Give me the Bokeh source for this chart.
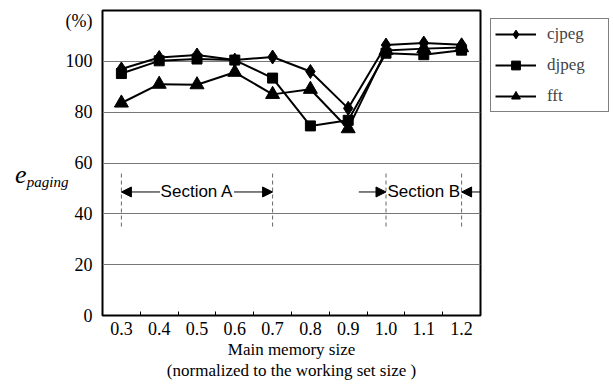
from bokeh.plotting import figure
from bokeh.layouts import row
from bokeh.models import (FixedTicker, Legend, LegendItem, Label, Arrow, NormalHead,
                          Range1d, LinearAxis, Title)
from bokeh.embed import file_html
from bokeh.resources import INLINE

# ---- data ----
sizes = ["0.3", "0.4", "0.5", "0.6", "0.7", "0.8", "0.9", "1.0", "1.1", "1.2"]
cjpeg = [97.0, 101.5, 102.5, 100.5, 101.7, 96.0, 81.5, 106.4, 107.2, 106.5]
djpeg = [95.2, 100.2, 100.9, 100.5, 93.4, 74.6, 76.8, 103.2, 102.6, 104.4]
fft = [83.6, 91.0, 90.8, 95.7, 87.0, 89.0, 73.5, 104.3, 105.0, 105.4]
series_names = ["cjpeg", "djpeg", "fft"]
y_ticks = [0, 20, 40, 60, 80, 100]
unit_label = "(%)"
y_title_main = "e"
y_title_sub = "paging"
x_title = "Main memory size"
x_subtitle = "(normalized to the working set size )"
section_names = ["Section A", "Section B"]
section_from = ["0.3", "1.0"]
section_to = ["0.7", "1.2"]

idx = list(range(len(sizes)))
pos = {s: i for i, s in enumerate(sizes)}
series_vals = [cjpeg, djpeg, fft]
markers = [("diamond", 14), ("square", 10), ("triangle", 14)]

SERIF = "Liberation Serif"
SANS = "Liberation Sans"

TOTAL_W, TOTAL_H = 613, 392
MAIN_W = 482
LEG_W = TOTAL_W - MAIN_W

p = figure(width=MAIN_W, height=TOTAL_H, x_range=Range1d(-0.5, len(sizes) - 0.5),
           y_range=Range1d(0, 120), output_backend="svg", toolbar_location=None,
           min_border_left=102, min_border_right=2, min_border_top=10,
           min_border_bottom=77)
p.background_fill_color = "white"
p.border_fill_color = "white"
p.outline_line_color = "black"
p.outline_line_width = 2

# x axis
xa = p.xaxis[0]
xa.ticker = FixedTicker(ticks=idx, minor_ticks=[i + 0.5 for i in idx[:-1]])
xa.major_label_overrides = {i: s for i, s in enumerate(sizes)}
xa.axis_line_color = None
xa.major_tick_in = 0
xa.major_tick_out = 0
xa.minor_tick_in = 4
xa.minor_tick_out = 0
xa.minor_tick_line_color = "black"
xa.major_label_text_font = SERIF
xa.major_label_text_font_size = "18px"
xa.major_label_text_color = "black"
xa.major_label_standoff = 6

for t in [x_title, x_subtitle]:
    p.add_layout(Title(text=t, align="center", text_font=SERIF,
                       text_font_style="normal", text_font_size="17px", text_color="black",
                       standoff=0, offset=20), "below")

# y axis
ya = p.yaxis[0]
unit_pos = 116
ya.ticker = FixedTicker(ticks=y_ticks + [unit_pos])
ya.major_label_overrides = {unit_pos: unit_label}
ya.axis_line_color = None
ya.major_tick_in = 0
ya.major_tick_out = 0
ya.minor_tick_line_color = None
ya.major_label_text_font = SERIF
ya.major_label_text_font_size = "18px"
ya.major_label_text_color = "black"
ya.major_label_standoff = 10
ya.axis_label = "\n\n" + y_title_sub
ya.axis_label_orientation = "horizontal"
ya.axis_label_text_font = SERIF
ya.axis_label_text_font_style = "italic"
ya.axis_label_text_font_size = "15px"
ya.axis_label_text_color = "black"
ya.axis_label_standoff = -6

ya2 = LinearAxis(ticker=FixedTicker(ticks=[]), axis_line_color=None,
                 major_tick_in=0, major_tick_out=0, minor_tick_in=0, minor_tick_out=0,
                 major_label_standoff=0, axis_label_standoff=-3,
                 axis_label="\n" + y_title_main, axis_label_orientation="horizontal",
                 axis_label_text_font=SERIF, axis_label_text_font_style="italic",
                 axis_label_text_font_size="26px", axis_label_text_line_height=0.8,
                 axis_label_text_color="black")
p.add_layout(ya2, "left")

p.xgrid.grid_line_color = None
p.ygrid.grid_line_color = "#777777"
p.ygrid.grid_line_width = 1
p.ygrid.ticker = FixedTicker(ticks=y_ticks)

# series
for name, vals, (mk, sz) in zip(series_names, series_vals, markers):
    p.line(idx, vals, line_color="black", line_width=2)
    p.scatter(idx, vals, marker=mk, size=sz, fill_color="black", line_color="black")

# sections
sec_y = 48.6
sec_lo, sec_hi = 35, 56
half_text = 0.98
xs = [pos[s] for s in section_from] + [pos[s] for s in section_to]
p.segment(x0=xs, y0=[sec_lo] * 4, x1=xs, y1=[sec_hi] * 4, line_color="#666666",
          line_width=1, line_dash="4 3")

a0, a1 = pos[section_from[0]], pos[section_to[0]]
b0, b1 = pos[section_from[1]], pos[section_to[1]]
ca = (a0 + a1) / 2
cb = (b0 + b1) / 2
for nm, c in zip(section_names, [ca, cb]):
    p.add_layout(Label(x=c, y=sec_y, text=nm, text_align="center", text_baseline="middle",
                       text_font=SANS, text_font_size="17px", text_color="black"))

def head():
    return NormalHead(size=10, fill_color="black", line_color="black", line_width=1)

arrows = [(ca - half_text, a0), (ca + half_text, a1), (b0 - 0.72, b0), (len(sizes) - 0.5, b1)]
for xs0, xe in arrows:
    p.add_layout(Arrow(end=head(), x_start=xs0, y_start=sec_y, x_end=xe, y_end=sec_y,
                       line_color="black", line_width=1))

# ---- legend panel (separate figure; its series sit outside its visible range) ----
lg = figure(width=LEG_W, height=TOTAL_H, x_range=Range1d(-20, -10), y_range=Range1d(-20, -10),
            x_axis_type=None, y_axis_type=None, output_backend="svg",
            toolbar_location=None, min_border=0)
lg.outline_line_color = None
lg.background_fill_color = "white"
lg.border_fill_color = "white"
items = []
for name, vals, (mk, sz) in zip(series_names, series_vals, markers):
    rl = lg.line(idx, vals, line_color="black", line_width=2)
    rm = lg.scatter(idx, vals, marker=mk, size=sz, fill_color="black", line_color="black")
    items.append(LegendItem(label=name, renderers=[rl, rm]))

legend = Legend(items=items, location="top_left", border_line_color="black",
                border_line_width=1.5, padding=4, spacing=9, glyph_width=41,
                glyph_height=22, label_height=22, label_width=57, label_standoff=11,
                label_text_font=SERIF, label_text_font_size="17px", margin=8,
                background_fill_color="white", background_fill_alpha=1)
lg.add_layout(legend)

layout = row(p, lg, spacing=0)
open("out.html", "w").write(file_html(layout, INLINE))
